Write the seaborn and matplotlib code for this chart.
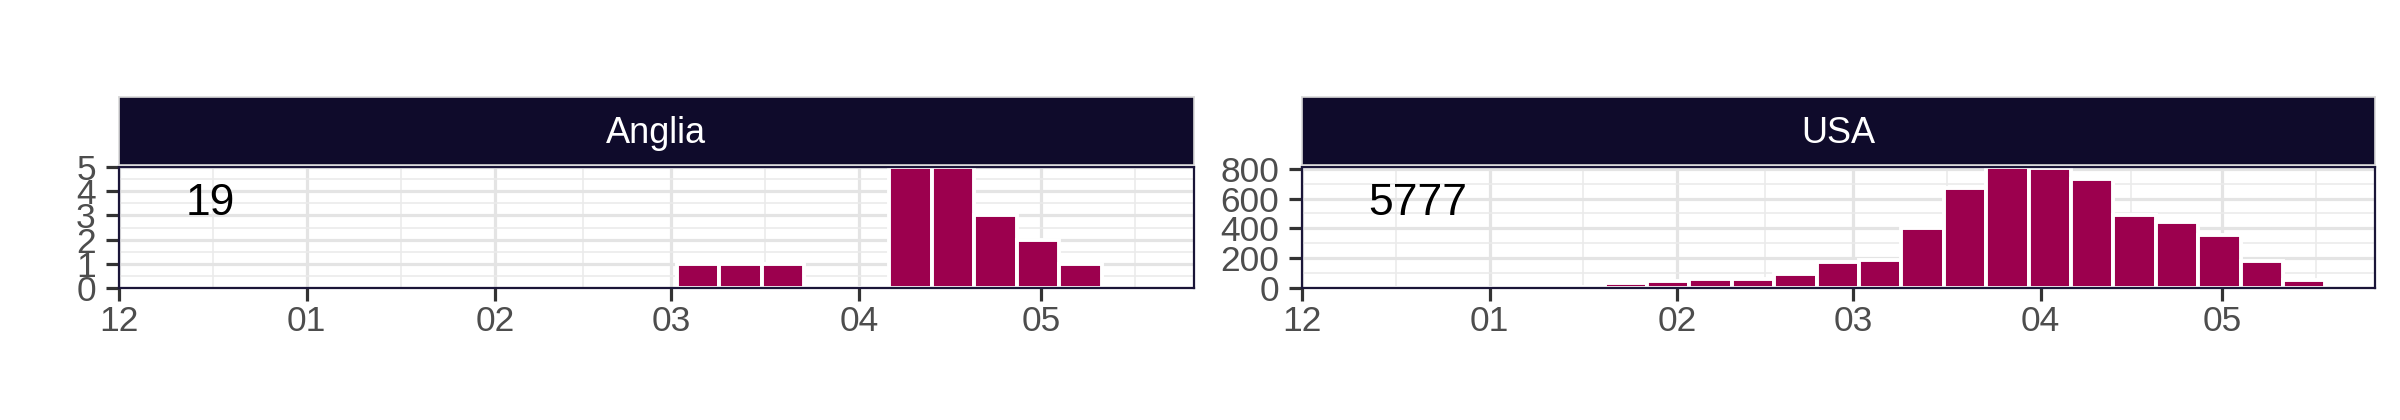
import numpy as np
import pandas as pd
import matplotlib
matplotlib.use("Agg")
import matplotlib.pyplot as plt
import matplotlib.dates as mdates
import seaborn as sns

# weekly counts (week starting Monday)
anglia_weeks = ['2020-03-02', '2020-03-09', '2020-03-16', '2020-03-23', '2020-03-30',
                '2020-04-06', '2020-04-13', '2020-04-20', '2020-04-27', '2020-05-04']
anglia_counts = [1, 1, 1, 0, 0, 5, 5, 3, 2, 1]

usa_weeks = ['2019-12-09', '2019-12-16', '2019-12-23', '2019-12-30', '2020-01-06',
             '2020-01-13', '2020-01-20', '2020-01-27', '2020-02-03', '2020-02-10',
             '2020-02-17', '2020-02-24', '2020-03-02', '2020-03-09', '2020-03-16',
             '2020-03-23', '2020-03-30', '2020-04-06', '2020-04-13', '2020-04-20',
             '2020-04-27', '2020-05-04', '2020-05-11']
usa_counts = [1, 0, 1, 0, 2, 10, 33, 45, 60, 60, 93, 175, 188, 406, 671,
              812, 808, 733, 488, 440, 358, 181, 52]

panels = ['Anglia', 'USA']
totals = ['19', '5777']

bar_col = '#9c004e'
strip_col = '#0f0b2b'
border_col = '#1a1538'

sns.set_theme(style='white')
plt.rcParams['font.family'] = ['Liberation Sans', 'DejaVu Sans']

fig = plt.figure(figsize=(24, 4.2), dpi=100)

xmin = mdates.date2num(pd.Timestamp('2019-12-01'))
xmax = mdates.date2num(pd.Timestamp('2020-05-26 03:00'))
month_starts = pd.date_range('2019-12-01', '2020-06-01', freq='MS')
ms = mdates.date2num(month_starts)
mids = (ms[:-1] + ms[1:]) / 2

lefts = [118.6 / 2400, 1301.8 / 2400]
widths = [1075 / 2400, 1072.7 / 2400]
bottom, height = (420 - 288) / 420, 121 / 420

data = [(anglia_weeks, anglia_counts), (usa_weeks, usa_counts)]

for i, (weeks, counts) in enumerate(data):
    ax = fig.add_axes([lefts[i], bottom, widths[i], height])
    wk = mdates.date2num(pd.to_datetime(weeks))
    df = pd.DataFrame({'mid': wk + 3.5, 'n': counts})
    sns.histplot(data=df, x='mid', weights='n', binwidth=7,
                 binrange=(wk[0], wk[-1] + 7), color=bar_col, alpha=1,
                 edgecolor='white', linewidth=2.8, ax=ax, zorder=2)
    ax.set_xlim(xmin, xmax)
    top = max(counts)
    ax.set_ylim(0, top)
    if top <= 5:
        ax.set_yticks(np.arange(0, 6, 1))
        ax.set_yticks(np.arange(0.5, 5, 1), minor=True)
    else:
        ax.set_yticks(np.arange(0, 801, 200))
        ax.set_yticks(np.arange(100, 800, 200), minor=True)
    ax.set_xticks(ms[:-1])
    ax.set_xticks(mids, minor=True)
    ax.xaxis.set_major_formatter(mdates.DateFormatter('%m'))
    ax.set_xlabel('')
    ax.set_ylabel('')
    ax.grid(which='major', color='#e4e4e4', linewidth=2.3, zorder=0)
    ax.grid(which='minor', color='#ebebeb', linewidth=1.2, zorder=0)
    ax.set_axisbelow(True)
    for s in ax.spines.values():
        s.set_color(border_col)
        s.set_linewidth(1.6)
        s.set_zorder(5)
    ax.tick_params(which='major', length=9.4, width=2.3, color='#333333',
                   labelsize=25.5, labelcolor='#4d4d4d',
                   bottom=True, left=True)
    ax.tick_params(axis='x', pad=2.5)
    ax.tick_params(axis='y', pad=7)
    ax.tick_params(which='minor', length=0)
    ax.text(0.062, 0.70, totals[i], transform=ax.transAxes, ha='left',
            va='center', fontsize=32, color='black')

    # facet strip
    sax = fig.add_axes([lefts[i], (420 - 165) / 420, widths[i], 68 / 420])
    sax.set_facecolor(strip_col)
    sax.set_xticks([])
    sax.set_yticks([])
    for s in sax.spines.values():
        s.set_color('#d9d9d9')
        s.set_linewidth(1.2)
    sax.text(0.5, 0.32, panels[i], transform=sax.transAxes, ha='center',
             va='baseline', fontsize=26, color='white')

fig.savefig('out.png', dpi=100, facecolor='white')
